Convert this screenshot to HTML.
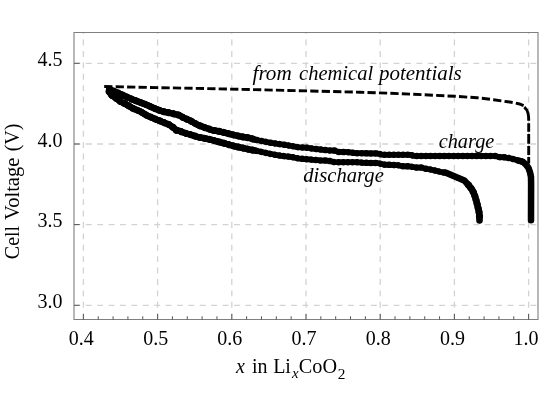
<!DOCTYPE html>
<html><head><meta charset="utf-8">
<style>
html,body{margin:0;padding:0;background:#fff;}
svg{display:block;}
text{font-family:"Liberation Serif",serif;fill:#000;}
</style></head><body>
<svg width="545" height="409" viewBox="0 0 545 409">
<rect width="545" height="409" fill="#fff"/>
<!-- grid -->
<g stroke="#d3d3d3" stroke-width="1.3" stroke-dasharray="5.9 5.5" fill="none">
<path d="M83.40 319.1V32.5M157.60 319.1V32.5M231.80 319.1V32.5M306.00 319.1V32.5M380.20 319.1V32.5M454.40 319.1V32.5M528.60 319.1V32.5"/>
<path d="M74.4 63.30H538M74.4 144.00H538M74.4 224.60H538M74.4 305.30H538"/>
</g>
<!-- frame -->
<path d="M74 32.5H538V319.5H74Z" fill="none" stroke="#7f7f7f" stroke-width="1.1"/>
<!-- ticks -->
<g stroke="#555" stroke-width="1" fill="none">
<path d="M83.40 319.5v-5.5M157.60 319.5v-5.5M231.80 319.5v-5.5M306.00 319.5v-5.5M380.20 319.5v-5.5M454.40 319.5v-5.5M528.60 319.5v-5.5"/>
<path d="M98.24 319.5v-3.2M113.08 319.5v-3.2M127.92 319.5v-3.2M142.76 319.5v-3.2M172.44 319.5v-3.2M187.28 319.5v-3.2M202.12 319.5v-3.2M216.96 319.5v-3.2M246.64 319.5v-3.2M261.48 319.5v-3.2M276.32 319.5v-3.2M291.16 319.5v-3.2M320.84 319.5v-3.2M335.68 319.5v-3.2M350.52 319.5v-3.2M365.36 319.5v-3.2M395.04 319.5v-3.2M409.88 319.5v-3.2M424.72 319.5v-3.2M439.56 319.5v-3.2M469.24 319.5v-3.2M484.08 319.5v-3.2M498.92 319.5v-3.2M513.76 319.5v-3.2"/>
<path d="M74 63.30h5.7M74 144.00h5.7M74 224.60h5.7M74 305.30h5.7"/>
</g>
<!-- curves -->
<g fill="none" stroke="#000" stroke-width="2.9">
<path d="M104.2 86.5L240 89.3L360 92.2L401.8 93.7L455 96.3L477 97.7L493.6 99.7L507.8 101.8L515.1 102.9L519.5 104L523.6 105.7" stroke-dasharray="8.25 3.2"/>
<path d="M524.3 107.2Q527.4 109.8 528.1 113.5T528.7 120.7"/>
<path d="M528.7 123.3V131.8M528.7 134V143.8M528.7 146V154.9M528.7 157V163.5"/>
</g>
<g fill="none" stroke="#000" stroke-linecap="round" stroke-linejoin="round">
<path d="M109.5 89.3L114 91.3L120.1 93.8L126 96.7L133.4 99.8L140 102.3L147.3 105.1L154.7 108.5L162 111.3L169.4 112.8L176.3 114.5L179.7 115.3L183.3 117.6L190.7 120.9L198 125L205.4 127.8L212.4 130.2L219.3 131.4L226.7 133.2L234 135L241.4 136.7L248.4 137.8L255.3 139.7L262.7 141.2L270 142.7L277.4 143.8L284.4 144.8L291.3 146L298.7 147.3L306 147.6L313.4 148.8L320.4 149.5L327.3 150.3L334.7 150.6L338.3 151.9L342 151.9L349.4 152.3L356.5 153.3L370.7 153.4L377.5 153.4L381.7 154.7L396 154.7L410.3 154.7L414 155.9L432 156L468 156L495.4 156L499 157.1L505.5 157.4L512.3 158.8L519.7 160.9L522.8 161.8L525.9 164.5L528.6 168.2L530.1 172.6L531 177L531.1 185L531 220.2" stroke-width="5.6"/>
<path d="M109.2 91.8L111.3 95L115.7 97.9L120.9 101.8L126 104.2L133.4 108.6L140 111.3L147.3 115.7L154.7 118.8L162 121.7L169.4 124.8L173 127.3L176 130.1L179.7 130.9L183.3 132.5L190.7 134.7L198 137.1L205 138.4L212 140L219.3 142L226.7 144L234 146.1L241.4 147.7L248.4 149.3L255.3 150.6L262.7 152.2L270 153.8L277.4 155.3L284.4 156.2L291.3 156.9L298.7 158.5L306 159.2L313.4 159.8L320.4 160.5L327.3 160.6L331 161.3L334.7 162.2L342 162.2L349.4 162.2L356.5 162.2L363.3 162.75L378 163.1L383.9 164.6L392 164.9L397.9 165.2L403 166.3L410.3 166.4L415.5 167.6L421.4 167.6L425 168.6L430 169.4L435.3 170.6L442.7 172.4L446 172.7L464.3 180.6L468.5 185L471.8 189.3L474 193.4L475.6 198.3L476.7 202.3L478.9 211.1L479.5 216L479.5 220.5" stroke-width="5.6"/>
<path d="M109.5 89.3L114 91.3L120.1 93.8L126 96.7L133.4 99.8L140 102.3L147.3 105.1L154.7 108.5L162 111.3L169.4 112.8L176.3 114.5L179.7 115.3L183.3 117.6L190.7 120.9L198 125L205.4 127.8L212.4 130.2L219.3 131.4L226.7 133.2L234 135L241.4 136.7L248.4 137.8L255.3 139.7" stroke-width="6.3"/>
<path d="M109.2 91.8L111.3 95L115.7 97.9L120.9 101.8L126 104.2L133.4 108.6L140 111.3L147.3 115.7L154.7 118.8L162 121.7L169.4 124.8L173 127.3L176 130.1L179.7 130.9L183.3 132.5L190.7 134.7L198 137.1L205 138.4L212 140L219.3 142L226.7 144L234 146.1L241.4 147.7L248.4 149.3L255.3 150.6" stroke-width="6.3"/>
<path d="M109.5 89.3L114 91.3L120.1 93.8L126 96.7L133.4 99.8L140 102.3L147.3 105.1L154.7 108.5L162 111.3L169.4 112.8L176.3 114.5L179.7 115.3L183.3 117.6L190.7 120.9L198 125L205.4 127.8L212.4 130.2L219.3 131.4L226.7 133.2L234 135L241.4 136.7L248.4 137.8L255.3 139.7" stroke-width="7.1" stroke-dasharray="0.01 4.9"/>
<path d="M109.2 91.8L111.3 95L115.7 97.9L120.9 101.8L126 104.2L133.4 108.6L140 111.3L147.3 115.7L154.7 118.8L162 121.7L169.4 124.8L173 127.3L176 130.1L179.7 130.9L183.3 132.5L190.7 134.7L198 137.1L205 138.4L212 140L219.3 142L226.7 144L234 146.1L241.4 147.7L248.4 149.3L255.3 150.6" stroke-width="7.1" stroke-dasharray="0.01 4.9"/>
<path d="M519.7 160.9L522.8 161.8L525.9 164.5L528.6 168.2L530.1 172.6L531 177L531.1 185L531 220.2" stroke-width="6.5"/>
<path d="M446 172.7L464.3 180.6L468.5 185L471.8 189.3L474 193.4L475.6 198.3L476.7 202.3L478.9 211.1L479.5 216L479.5 220.5" stroke-width="6.5"/>
<path d="M109.5 89.3L114 91.3L120.1 93.8L126 96.7L133.4 99.8L140 102.3L147.3 105.1L154.7 108.5L162 111.3L169.4 112.8L176.3 114.5L179.7 115.3L183.3 117.6L190.7 120.9L198 125L205.4 127.8L212.4 130.2L219.3 131.4L226.7 133.2L234 135L241.4 136.7L248.4 137.8L255.3 139.7L262.7 141.2L270 142.7L277.4 143.8L284.4 144.8L291.3 146L298.7 147.3L306 147.6L313.4 148.8L320.4 149.5L327.3 150.3L334.7 150.6L338.3 151.9L342 151.9L349.4 152.3L356.5 153.3L370.7 153.4L377.5 153.4L381.7 154.7L396 154.7L410.3 154.7L414 155.9L432 156L468 156L495.4 156L499 157.1L505.5 157.4L512.3 158.8L519.7 160.9L522.8 161.8" stroke-width="6.5" stroke-dasharray="0.01 4.6"/>
<path d="M109.2 91.8L111.3 95L115.7 97.9L120.9 101.8L126 104.2L133.4 108.6L140 111.3L147.3 115.7L154.7 118.8L162 121.7L169.4 124.8L173 127.3L176 130.1L179.7 130.9L183.3 132.5L190.7 134.7L198 137.1L205 138.4L212 140L219.3 142L226.7 144L234 146.1L241.4 147.7L248.4 149.3L255.3 150.6L262.7 152.2L270 153.8L277.4 155.3L284.4 156.2L291.3 156.9L298.7 158.5L306 159.2L313.4 159.8L320.4 160.5L327.3 160.6L331 161.3L334.7 162.2L342 162.2L349.4 162.2L356.5 162.2L363.3 162.75L378 163.1L383.9 164.6L392 164.9L397.9 165.2L403 166.3L410.3 166.4L415.5 167.6L421.4 167.6L425 168.6L430 169.4L435.3 170.6L442.7 172.4L446 172.7" stroke-width="6.5" stroke-dasharray="0.01 4.6"/>
<path d="M468.5 185L471.8 189.3L474 193.4L475.6 198.3L476.7 202.3L478.9 211.1L479.5 216L479.5 220.5" stroke-width="7.2" stroke-dasharray="0.01 4.2"/>
</g>
<!-- labels -->
<g font-size="20" opacity="0.999">
<text transform="translate(252.53 80.2) scale(1.0600 1)" font-style="italic">from</text>
<text transform="translate(299.03 80.2) scale(1.0274 1)" font-style="italic">chemical</text>
<text transform="translate(379.04 80.2) scale(1.0482 1)" font-style="italic">potentials</text>
<text transform="translate(438.63 147.9) scale(1.0179 1)" font-style="italic">charge</text>
<text transform="translate(303.13 182.0) scale(1.0330 1)" font-style="italic">discharge</text>
<text transform="translate(236.05 373.2)" font-style="italic">x</text>
<text transform="translate(252.01 373.2)">in</text>
<text transform="translate(273.15 373.2)">Li</text>
<text transform="translate(292.10 378.3) scale(1.0300 1)" font-style="italic" font-size="14.5">x</text>
<text transform="translate(298.79 373.2) scale(1.0139 1)">CoO</text>
<text transform="translate(337.81 378.5) scale(1.0592 1)" font-size="14.5">2</text>
<text transform="translate(18.7 259.20) rotate(-90) scale(1.0000 1)">Cell</text>
<text transform="translate(18.7 219.99) rotate(-90) scale(1.0265 1)">Voltage</text>
<text transform="translate(18.7 151.30) rotate(-90) scale(1.0000 1)">(V)</text>
<text transform="translate(37.48 65.89999999999999)">4.5</text>
<text transform="translate(37.48 146.6)">4.0</text>
<text transform="translate(37.48 227.2)">3.5</text>
<text transform="translate(37.48 307.90000000000003)">3.0</text>
<text transform="translate(68.71 345.2)">0.4</text>
<text transform="translate(143.19 345.2)">0.5</text>
<text transform="translate(217.29 345.2)">0.6</text>
<text transform="translate(291.49 345.2)">0.7</text>
<text transform="translate(365.79 345.2)">0.8</text>
<text transform="translate(440.01 345.2)">0.9</text>
<text transform="translate(513.56 345.2)">1.0</text>
</g>
</svg>
</body></html>
